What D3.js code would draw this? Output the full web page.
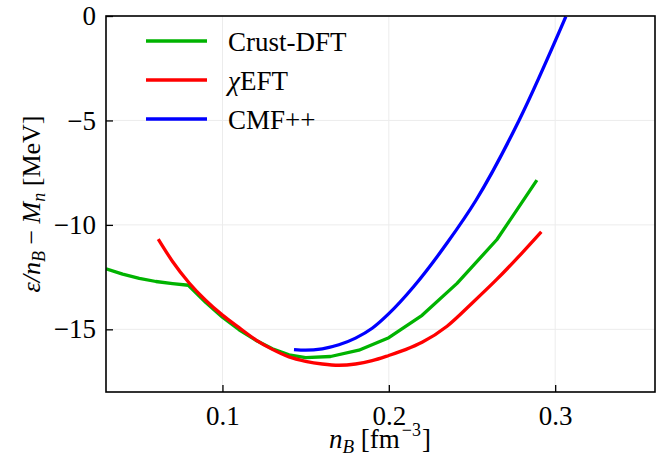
<!DOCTYPE html>
<html lang="en">
<head>
    <meta charset="UTF-8">
    <title>Energy per baryon</title>
    <script src="https://cdn.jsdelivr.net/npm/d3@7"></script>
    <style>
        body { margin: 0; background: #fff; }
    </style>
</head>
<body>
<svg id="main" width="657" height="462"></svg>
<script>
    // data
    let crustX = [0.030, 0.040, 0.050, 0.060, 0.070, 0.0795, 0.090, 0.100, 0.110, 0.120, 0.130, 0.140, 0.150, 0.165, 0.182, 0.200, 0.220, 0.241, 0.265, 0.289];
    let crustY = [-12.10, -12.36, -12.56, -12.71, -12.81, -12.89, -13.72, -14.42, -15.02, -15.52, -15.93, -16.22, -16.35, -16.30, -16.00, -15.40, -14.33, -12.80, -10.70, -7.86];

    let eftX = [0.0614, 0.070, 0.080, 0.090, 0.100, 0.110, 0.120, 0.130, 0.140, 0.150, 0.160, 0.170, 0.180, 0.190, 0.200, 0.210, 0.220, 0.235, 0.250, 0.265, 0.280, 0.2917];
    let eftY = [-10.68, -11.75, -12.78, -13.62, -14.32, -14.92, -15.50, -15.96, -16.32, -16.53, -16.66, -16.72, -16.66, -16.50, -16.25, -15.97, -15.62, -14.85, -13.75, -12.60, -11.35, -10.33];

    let cmfX = [0.143, 0.150, 0.160, 0.170, 0.180, 0.190, 0.200, 0.215, 0.235, 0.2524, 0.2784, 0.3064];
    let cmfY = [-15.97, -16.00, -15.93, -15.74, -15.42, -14.95, -14.25, -12.95, -10.87, -8.82, -4.98, -0.03];

    let seriesNames = ['Crust-DFT', 'χEFT', 'CMF++'];
    let lineColors = ['#00b300', '#ff0000', '#0000ff'];
    let xTicks = [0.1, 0.2, 0.3];
    let yTicks = [0, -5, -10, -15];

    let font = 'Liberation Serif';
    let svg = d3.select('svg#main');
    let mLeft = 106, mRight = 655, mTop = 16, mBottom = 392;

    let x = d3.scaleLinear().domain([0.03, 0.36]).range([mLeft, mRight]);
    let y = d3.scaleLinear().domain([-18, 0]).range([mBottom, mTop]);

    // grid
    svg.append('g').selectAll('line').data(xTicks).enter().append('line')
        .attr('x1', d => x(d)).attr('x2', d => x(d))
        .attr('y1', mTop).attr('y2', mBottom)
        .attr('stroke', '#ececec').attr('stroke-width', 1);
    svg.append('g').selectAll('line').data(yTicks).enter().append('line')
        .attr('x1', mLeft).attr('x2', mRight)
        .attr('y1', d => y(d)).attr('y2', d => y(d))
        .attr('stroke', '#ececec').attr('stroke-width', 1);

    svg.append('clipPath').attr('id', 'plotclip')
        .append('rect').attr('x', mLeft).attr('y', mTop)
        .attr('width', mRight - mLeft).attr('height', mBottom - mTop);

    let series = [
        crustX.map((v, i) => [v, crustY[i]]),
        eftX.map((v, i) => [v, eftY[i]]),
        cmfX.map((v, i) => [v, cmfY[i]])
    ];
    // crust table is coarse (kinks visible), the other two are smooth
    let curves = [d3.curveLinear, d3.curveMonotoneX, d3.curveMonotoneX];

    let plot = svg.append('g').attr('clip-path', 'url(#plotclip)');
    series.forEach((s, i) => {
        let line = d3.line().x(d => x(d[0])).y(d => y(d[1])).curve(curves[i]);
        plot.append('path')
            .datum(s)
            .attr('d', line)
            .attr('fill', 'none')
            .attr('stroke', lineColors[i])
            .attr('stroke-width', 3.3)
            .attr('stroke-linejoin', 'round');
    });

    // axes, ticks pointing inward
    let xAxis = svg.append('g')
        .attr('transform', 'translate(0,' + mBottom + ')')
        .call(d3.axisBottom(x).tickValues(xTicks).tickSize(-7).tickPadding(14).tickFormat(d3.format('.1f')));
    let yAxis = svg.append('g')
        .attr('transform', 'translate(' + mLeft + ',0)')
        .call(d3.axisLeft(y).tickValues(yTicks).tickSize(-7).tickPadding(10).tickFormat(d => d < 0 ? '\u2212' + (-d) : d));
    [xAxis, yAxis].forEach(a => {
        a.attr('font-family', font);
        a.select('.domain').remove();
        a.selectAll('.tick line').attr('stroke', '#000').attr('stroke-width', 1.3);
        a.selectAll('.tick text').attr('font-size', 27).attr('fill', '#000');
    });

    svg.append('rect')
        .attr('x', mLeft).attr('y', mTop)
        .attr('width', mRight - mLeft).attr('height', mBottom - mTop)
        .attr('fill', 'none').attr('stroke', '#000').attr('stroke-width', 1.6);

    // axis labels
    let xl = svg.append('text')
        .attr('x', 380).attr('y', 448)
        .attr('text-anchor', 'middle')
        .attr('font-family', font)
        .attr('font-size', 27);
    xl.append('tspan').attr('font-style', 'italic').text('n');
    xl.append('tspan').attr('font-style', 'italic').attr('font-size', 19).attr('dy', 5).text('B');
    xl.append('tspan').attr('dy', -5).text('  [fm');
    xl.append('tspan').attr('font-size', 18).attr('dx', 2).attr('dy', -12).text('\u22123');
    xl.append('tspan').attr('dx', 1).attr('dy', 12).text(']');

    let yl = svg.append('text')
        .attr('transform', 'translate(40,' + ((mTop + mBottom) / 2) + ') rotate(-90)')
        .attr('text-anchor', 'middle')
        .attr('font-family', font)
        .attr('font-size', 26);
    yl.append('tspan').attr('font-style', 'italic').text('ε/n');
    yl.append('tspan').attr('font-style', 'italic').attr('font-size', 18).attr('dy', 5).text('B');
    yl.append('tspan').attr('dy', -5).text(' \u2212 ');
    yl.append('tspan').attr('font-style', 'italic').text('M');
    yl.append('tspan').attr('font-style', 'italic').attr('font-size', 18).attr('dy', 5).text('n');
    yl.append('tspan').attr('dy', -5).text(' [MeV]');

    // legend
    let legend = svg.selectAll('.lineLegend').data(seriesNames)
        .enter().append('g')
        .attr('class', 'lineLegend')
        .attr('transform', (d, i) => 'translate(146,' + (41 + i * 39) + ')');
    legend.append('line')
        .attr('x1', 0).attr('x2', 61).attr('y1', 0).attr('y2', 0)
        .attr('stroke', (d, i) => lineColors[i]).attr('stroke-width', 3.3);
    legend.each(function (d) {
        let t = d3.select(this).append('text')
            .attr('x', 82).attr('y', 10)
            .attr('font-family', font)
            .attr('font-size', 27);
        if (d === 'χEFT') {
            t.append('tspan').attr('font-style', 'italic').text('χ');
            t.append('tspan').text('EFT');
        } else {
            t.text(d);
        }
    });
</script>
</body>
</html>
